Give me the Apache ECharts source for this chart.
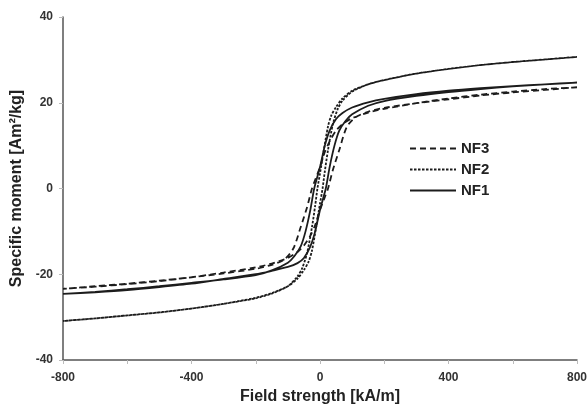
<!DOCTYPE html>
<html>
<head>
<meta charset="utf-8">
<script src="https://cdn.jsdelivr.net/npm/echarts@6/dist/echarts.min.js"></script>
<style>
html, body { margin: 0; padding: 0; background: #fff; }
#main { width: 587px; height: 404px; }
</style>
</head>
<body>
<div id="main"></div>
<script>
var chart = echarts.init(document.getElementById('main'));

// field strength [kA/m], specific moment [Am2/kg]
// each loop: descending branch (from +800) then ascending branch (from -800)
var nf1Down = [[800,24.7],[700,24.3],[600,23.9],[500,23.4],[400,22.8],[300,22.0],[200,20.9],[150,20.1],[100,18.9],[70,17.6],[50,16.2],[30,13.5],[15,10],[0,5],[-18,0],[-30,-5],[-45,-10],[-60,-13.5],[-80,-15.8],[-100,-17.3],[-150,-19.1],[-200,-20.2],[-300,-21.2],[-400,-22],[-500,-22.8],[-600,-23.5],[-700,-24.1],[-800,-24.6]];
var nf1Up = [[-800,-24.6],[-700,-24.2],[-600,-23.7],[-500,-23.0],[-400,-22.2],[-300,-21.1],[-200,-20.0],[-150,-19.2],[-100,-18.3],[-70,-17.4],[-50,-16.2],[-30,-13.5],[-15,-10],[0,-5],[18,0],[30,5],[45,10],[60,13.5],[80,15.8],[100,17.3],[150,19.3],[200,20.4],[300,21.6],[400,22.5],[500,23.2],[600,23.8],[700,24.3],[800,24.7]];

var nf2Down = [[800,30.7],[700,30.1],[600,29.5],[500,28.8],[400,27.9],[300,26.8],[200,25.3],[150,24.3],[100,22.8],[70,21],[50,19],[35,17],[25,14.5],[12,9],[0,3.5],[-8,0],[-15,-4],[-25,-9],[-40,-15],[-55,-18.5],[-70,-20.5],[-100,-22.8],[-150,-24.5],[-200,-25.6],[-300,-26.9],[-400,-28],[-500,-28.9],[-600,-29.6],[-700,-30.3],[-800,-30.9]];
var nf2Up = [[-800,-30.9],[-700,-30.3],[-600,-29.6],[-500,-28.9],[-400,-28],[-300,-26.9],[-200,-25.5],[-150,-24.4],[-100,-22.8],[-70,-21],[-50,-19],[-35,-17],[-25,-14.5],[-12,-9],[0,-3.5],[8,0],[15,4],[25,9],[40,15],[55,18.5],[70,20.5],[100,22.6],[150,24.3],[200,25.3],[300,26.8],[400,27.9],[500,28.8],[600,29.5],[700,30.1],[800,30.7]];

var nf3Down = [[800,23.6],[700,23.2],[600,22.6],[500,21.9],[400,21.0],[300,19.9],[200,18.6],[150,17.7],[100,16.4],[70,15],[50,13.5],[30,11],[15,8.5],[0,5],[-15,2],[-25,0],[-40,-4.3],[-60,-9],[-83,-14],[-110,-16.5],[-150,-17.8],[-200,-18.7],[-300,-19.8],[-400,-20.7],[-500,-21.5],[-600,-22.2],[-700,-22.8],[-800,-23.4]];
var nf3Up = [[-800,-23.4],[-700,-22.9],[-600,-22.3],[-500,-21.6],[-400,-20.7],[-300,-19.6],[-200,-18.4],[-150,-17.5],[-100,-16.2],[-70,-14.8],[-50,-13.3],[-30,-11],[-15,-8.5],[0,-5],[15,-2],[25,0],[40,4.3],[60,9],[83,14.3],[110,16.6],[150,17.9],[200,18.8],[300,19.9],[400,20.8],[500,21.7],[600,22.4],[700,23],[800,23.6]];

var legendNames = ['NF3', 'NF2', 'NF1'];
var xTickLabels = [-800, -400, 0, 400, 800];

var lineColor = '#1c1c1c';
var axisColor = '#555';

function loop(name, down, up, type) {
	return {
		name: name,
		type: 'line',
		data: down.concat(up),
		smooth: 0.25,
		symbol: 'none',
		lineStyle: { color: lineColor, width: 1.8, type: type },
		itemStyle: { color: lineColor }
	};
}

var option = {
	animation: false,
	backgroundColor: '#fff',
	grid: { left: 63, right: 10, top: 17, bottom: 44, outerBoundsMode: 'none' },
	legend: {
		data: legendNames,
		orient: 'vertical',
		left: 404,
		top: 136,
		itemWidth: 46,
		itemHeight: 14,
		itemGap: 6,
		itemStyle: { opacity: 0 },
		textStyle: { color: '#222', fontSize: 15, fontWeight: 'bold', fontFamily: 'Liberation Sans' }
	},
	xAxis: {
		type: 'value',
		min: -800,
		max: 800,
		interval: 200,
		name: 'Field strength [kA/m]',
		nameLocation: 'middle',
		nameGap: 22,
		nameTextStyle: { color: '#222', fontSize: 16, fontWeight: 'bold', fontFamily: 'Liberation Sans' },
		axisLine: { onZero: false, lineStyle: { color: axisColor, width: 1.5 } },
		axisTick: { show: true, length: 4, lineStyle: { color: '#bbb' } },
		axisLabel: {
			color: '#333', fontSize: 12, fontWeight: 'bold', fontFamily: 'Liberation Sans', margin: 12,
			formatter: function (v) { return xTickLabels.indexOf(v) >= 0 ? String(v) : ''; }
		},
		splitLine: { show: false }
	},
	yAxis: {
		type: 'value',
		min: -40,
		max: 40,
		interval: 20,
		name: 'Specific moment [Am²/kg]',
		nameLocation: 'middle',
		nameGap: 36,
		nameTextStyle: { color: '#222', fontSize: 16, fontWeight: 'bold', fontFamily: 'Liberation Sans' },
		axisLine: { show: true, onZero: false, lineStyle: { color: axisColor, width: 1.5 } },
		axisTick: { show: true, length: 4, lineStyle: { color: '#bbb' } },
		axisLabel: { color: '#333', fontSize: 12, fontWeight: 'bold', fontFamily: 'Liberation Sans', margin: 10 },
		splitLine: { show: false }
	},
	series: [
		loop('NF3', nf3Down, nf3Up, [6, 4]),
		loop('NF2', nf2Down, nf2Up, [2.5, 1.5]),
		loop('NF1', nf1Down, nf1Up, 'solid')
	]
};

chart.setOption(option);
</script>
</body>
</html>
